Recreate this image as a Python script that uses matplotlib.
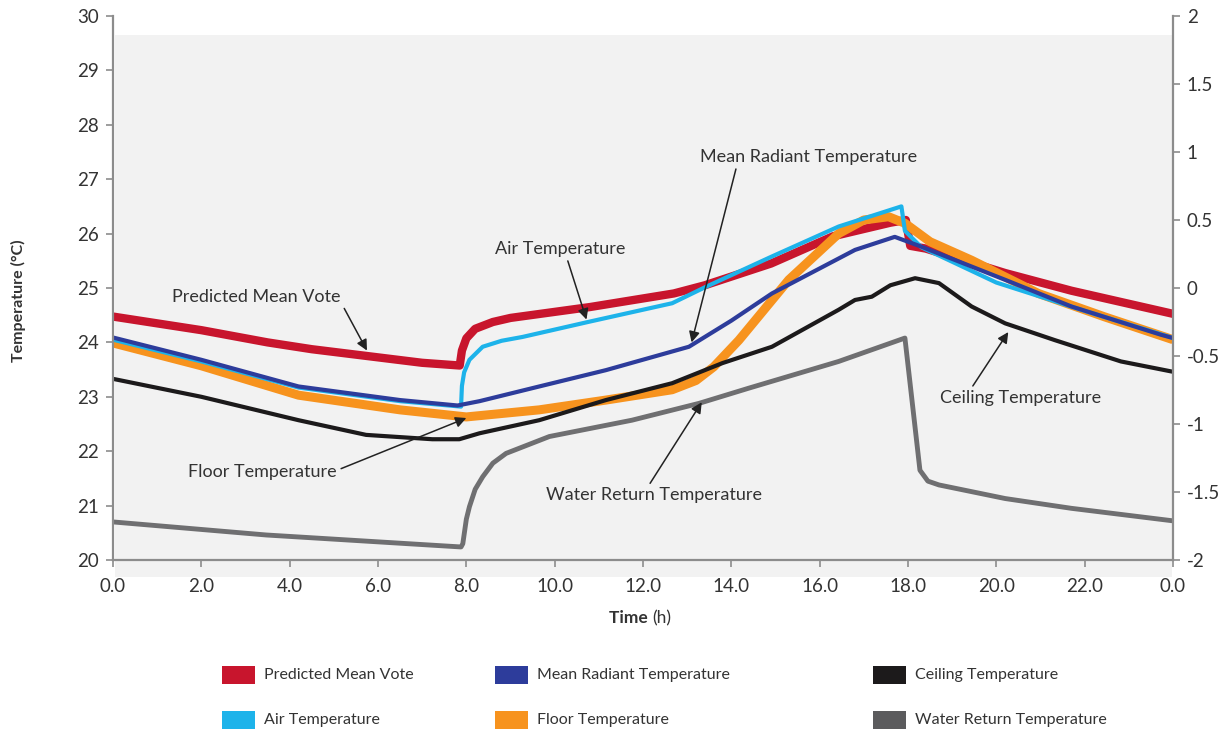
import matplotlib
matplotlib.use('Agg')
import matplotlib.pyplot as plt
from matplotlib.patches import Rectangle
from matplotlib.ticker import FuncFormatter

plt.rcParams['font.family'] = ['Lato', 'DejaVu Sans']

# --- data (hours, degC / PMV) ---
pmv_hours = [0.0, 1.0, 2.0, 3.5, 4.5, 5.75, 7.0, 7.85, 7.9, 8.0, 8.2, 8.6, 9.0, 10.8, 12.7,
             13.4, 14.9, 16.3, 17.6, 17.95, 18.05, 18.4, 19.3, 20.2, 21.7, 24.0]
pmv_values = [-0.21, -0.26, -0.31, -0.40, -0.45, -0.50, -0.55, -0.57, -0.46, -0.37, -0.30, -0.25,
              -0.22, -0.14, -0.04, 0.02, 0.18, 0.38, 0.48, 0.50, 0.31, 0.29, 0.20, 0.11, -0.02, -0.19]

air_hours = [0.0, 2.0, 4.2, 6.5, 7.88, 7.9, 7.95, 8.07, 8.37, 8.8, 9.27, 10.78, 12.66, 13.42,
             14.92, 16.43, 17.85, 17.93, 18.3, 20.0, 22.0, 24.0]
air_temp = [24.05, 23.65, 23.17, 22.92, 22.82, 23.2, 23.45, 23.68, 23.92, 24.03, 24.1, 24.38,
            24.72, 25.02, 25.58, 26.13, 26.5, 26.05, 25.75, 25.1, 24.58, 24.08]

mrt_hours = [0.0, 2.0, 4.2, 6.5, 7.8, 8.3, 9.65, 11.16, 13.04, 14.0, 14.92, 16.8, 17.7, 18.3,
             20.2, 21.7, 23.73, 24.0]
mrt_temp = [24.09, 23.68, 23.19, 22.94, 22.84, 22.92, 23.19, 23.49, 23.92, 24.4, 24.9, 25.7,
            25.94, 25.76, 25.15, 24.66, 24.14, 24.08]

floor_hours = [0.0, 2.0, 4.2, 6.5, 8.0, 9.65, 11.16, 12.66, 13.2, 13.6, 14.17, 15.3, 16.43, 17.0,
               17.56, 17.93, 18.5, 19.44, 20.95, 22.45, 24.0]
floor_temp = [23.99, 23.57, 23.03, 22.76, 22.63, 22.76, 22.94, 23.13, 23.3, 23.55, 24.04, 25.15,
              26.0, 26.25, 26.31, 26.19, 25.85, 25.51, 24.9, 24.47, 24.05]

ceiling_hours = [0.0, 2.0, 4.2, 5.73, 7.23, 7.84, 8.3, 9.65, 11.16, 12.66, 13.8, 14.92, 16.43,
                 16.8, 17.18, 17.6, 18.16, 18.7, 19.44, 20.2, 21.33, 22.82, 24.0]
ceiling_temp = [23.33, 23.0, 22.57, 22.30, 22.22, 22.22, 22.33, 22.57, 22.94, 23.25, 23.62, 23.92,
                24.6, 24.78, 24.84, 25.05, 25.18, 25.09, 24.66, 24.35, 24.04, 23.65, 23.46]

water_hours = [0.0, 3.47, 7.88, 7.92, 8.0, 8.07, 8.2, 8.37, 8.6, 8.9, 9.88, 11.75, 13.27, 14.4,
               16.43, 17.93, 18.27, 18.45, 18.7, 20.2, 21.7, 24.0]
water_temp = [20.70, 20.46, 20.24, 20.3, 20.75, 20.98, 21.3, 21.53, 21.78, 21.96, 22.27, 22.57,
              22.88, 23.16, 23.65, 24.08, 21.65, 21.45, 21.38, 21.13, 20.95, 20.72]

x_ticks = [0, 2, 4, 6, 8, 10, 12, 14, 16, 18, 20, 22, 24]
x_tick_labels = ['0.0', '2.0', '4.0', '6.0', '8.0', '10.0', '12.0', '14.0', '16.0', '18.0',
                 '20.0', '22.0', '0.0']

legend_names = ['Predicted Mean Vote', 'Mean Radiant Temperature', 'Ceiling Temperature',
                'Air Temperature', 'Floor Temperature', 'Water Return Temperature']

red = '#c8152d'
blue = '#2d3c9b'
black = '#1c1a1b'
cyan = '#1db3ea'
orange = '#f7931e'
grey = '#6f6f71'
legend_colors = [red, blue, black, cyan, orange, '#5b5b5d']
axis_grey = '#8c8c8c'
text_col = '#333333'

fig = plt.figure(figsize=(12.31, 7.33), dpi=100)
# light grey panel behind the plot
fig.patches.append(Rectangle((0.0934, 0.2128), 0.8587, 0.7394, transform=fig.transFigure,
                             facecolor='#f2f2f2', edgecolor='none', zorder=-1))

ax = fig.add_axes([0.0918, 0.2360, 0.8611, 0.7422])
ax.set_facecolor('none')
ax2 = ax.twinx()
ax.set_xlim(0, 24)
ax.set_ylim(20, 30)
ax2.set_ylim(-2, 2)

# lines (PMV drawn on the left axes but through the right-hand scale)
ax.plot(pmv_hours, pmv_values, color=red, lw=6.0, transform=ax2.transData, zorder=2.0)
ax.plot(floor_hours, floor_temp, color=orange, lw=6.5, solid_capstyle='butt', zorder=2.1)
ax.plot(air_hours, air_temp, color=cyan, lw=3.0, zorder=2.2)
ax.plot(mrt_hours, mrt_temp, color=blue, lw=3.0, zorder=2.3)
ax.plot(ceiling_hours, ceiling_temp, color=black, lw=3.0, zorder=2.4)
ax.plot(water_hours, water_temp, color=grey, lw=3.5, zorder=2.5)

# axes styling
for a in (ax, ax2):
    for s in a.spines.values():
        s.set_color(axis_grey)
        s.set_linewidth(1.6)
    a.spines['top'].set_visible(False)
ax2.spines['left'].set_visible(False)
ax2.spines['bottom'].set_visible(False)
ax.spines['right'].set_visible(False)

ax.set_xticks(x_ticks)
ax.set_xticklabels(x_tick_labels)
ax.set_yticks(range(20, 31))
ax2.set_yticks([-2, -1.5, -1, -0.5, 0, 0.5, 1, 1.5, 2])
ax2.yaxis.set_major_formatter(FuncFormatter(lambda v, p: f'{v:g}'))
ax.tick_params(axis='both', direction='out', length=5, width=1.2, color=axis_grey,
               labelsize=13.5, labelcolor=text_col, pad=5)
ax.tick_params(axis='x', pad=8)
ax2.tick_params(axis='y', direction='out', length=5, width=1.2, color=axis_grey,
                labelsize=13.5, labelcolor=text_col, pad=5)

fig.text(18 / 1231, 1 - 301 / 733, 'Temperature (°C)', rotation=90, ha='center', va='center',
         fontsize=11.5, fontweight='bold', color=text_col)
fig.text(652 / 1231, 1 - 618 / 733, 'Time ', ha='right', va='center', fontsize=12.5,
         fontweight='bold', color=text_col)
fig.text(652 / 1231, 1 - 618 / 733, '(h)', ha='left', va='center', fontsize=12.5, color=text_col)

# callouts
arrow = dict(arrowstyle='-|>', color='#222222', lw=1.1, mutation_scale=16, shrinkA=1, shrinkB=0)
callouts = [
    ('Predicted Mean Vote', (5.75, 23.85), (3.25, 24.83), (1.0, 0.2)),
    ('Air Temperature', (10.72, 24.42), (10.12, 25.72), (0.55, 0.0)),
    ('Mean Radiant Temperature', (13.1, 24.0), (15.75, 27.41), (0.17, 0.0)),
    ('Ceiling Temperature', (20.27, 24.19), (20.54, 22.98), (0.19, 1.0)),
    ('Floor Temperature', (8.0, 22.61), (3.39, 21.62), (1.0, 0.6)),
    ('Water Return Temperature', (13.33, 22.9), (12.25, 21.19), (0.47, 1.0)),
]
for label, tip, pos, rel in callouts:
    ax.annotate(label, xy=tip, xytext=pos, ha='center', va='center', fontsize=13,
                color=text_col, zorder=5, arrowprops=dict(arrow, relpos=rel))

# legend, laid out by hand
col_x = [222, 495, 873]
row_y = [675, 720]
for i, (name, col) in enumerate(zip(legend_names, legend_colors)):
    px = col_x[i % 3]
    py = row_y[i // 3]
    fig.patches.append(Rectangle((px / 1231, 1 - (py + 9) / 733), 33 / 1231, 18 / 733,
                                 transform=fig.transFigure, facecolor=col, edgecolor='none'))
    fig.text((px + 42) / 1231, 1 - py / 733, name, ha='left', va='center', fontsize=11.5,
             color=text_col)

fig.savefig('out.png', dpi=100)
